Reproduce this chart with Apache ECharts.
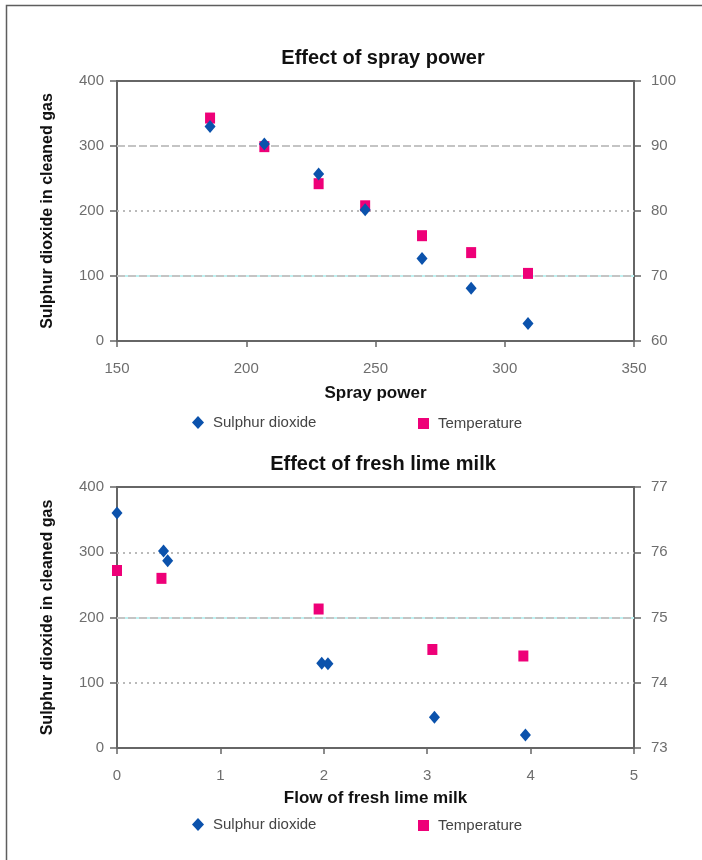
<!DOCTYPE html>
<html>
<head>
<meta charset="utf-8">
<script src="https://cdn.jsdelivr.net/npm/echarts@6/dist/echarts.min.js"></script>
<style>
  html, body { margin: 0; padding: 0; background: #fff; }
  #chart { width: 702px; height: 860px; }
</style>
</head>
<body>
<div id="chart"></div>
<script>
// Spray power trial
const sprayPower   = [186, 207, 228, 246, 268, 287, 309];
const so2BySpray   = [330, 303, 257, 202, 127, 81, 27];
const tempBySpray  = [94.3, 89.9, 84.2, 80.8, 76.2, 73.6, 70.4];

// Fresh lime milk trial
const limeFlowSo2  = [0, 0.45, 0.49, 1.98, 2.04, 3.07, 3.95];
const so2ByFlow    = [360, 302, 287, 130, 129, 47, 20];
const limeFlowTemp = [0, 0.43, 1.95, 3.05, 3.93];
const tempByFlow   = [75.72, 75.60, 75.13, 74.51, 74.41];

// Axis ranges and tick steps
const sprayAxis   = { min: 150, max: 350, interval: 50 };
const flowAxis    = { min: 0, max: 5, interval: 1 };
const so2Axis     = { min: 0, max: 400, interval: 100 };
const tempAxisTop = { min: 60, max: 100, interval: 10 };
const tempAxisBot = { min: 73, max: 77, interval: 1 };

const so2Name  = 'Sulphur dioxide';
const tempName = 'Temperature';
const yTitle   = 'Sulphur dioxide in cleaned gas';

const FONT = '"Liberation Sans", Arial, sans-serif';
const AXIS_COLOR = '#666666';

const pairs = (xs, ys) => xs.map((x, i) => [x, ys[i]]);

const dashedGrey = { color: '#c4c4c4', width: 2, type: [8, 3] };
const dottedGrey = { color: '#bababa', width: 2, type: [2, 4] };
const cyanBase   = { color: '#bff2f2', width: 2, type: 'solid' };

// Horizontal guide lines at the left-axis ticks, each with its own stroke
function gridLines(spec) {
  const data = [];
  spec.forEach(([v, kind]) => {
    if (kind === 'cyan') {
      data.push({ yAxis: v, lineStyle: cyanBase });
      data.push({ yAxis: v, lineStyle: dashedGrey });
    } else {
      data.push({ yAxis: v, lineStyle: kind === 'dash' ? dashedGrey : dottedGrey });
    }
  });
  return { silent: true, symbol: 'none', label: { show: false }, z: 1, data };
}

function xAxisCfg(gridIndex, range, name, nameGap) {
  return Object.assign({
    gridIndex, type: 'value', name, nameLocation: 'middle', nameGap,
    nameTextStyle: { fontFamily: FONT, fontSize: 17, fontWeight: 'bold', color: '#111' },
    axisLine: { show: true, lineStyle: { color: AXIS_COLOR, width: 2 } },
    axisTick: { show: true, length: 6, lineStyle: { color: AXIS_COLOR, width: 1.5 } },
    axisLabel: { margin: 20, fontFamily: FONT, fontSize: 15, color: '#6e6e6e' },
    splitLine: { show: false }
  }, range);
}

function yAxisCfg(gridIndex, range, position, name) {
  const cfg = Object.assign({
    gridIndex, type: 'value', position,
    axisLine: { show: true, onZero: false, lineStyle: { color: AXIS_COLOR, width: 2 } },
    axisTick: { show: true, length: 7, lineStyle: { color: AXIS_COLOR, width: 1.5 } },
    axisLabel: { margin: position === 'left' ? 13 : 17, fontFamily: FONT, fontSize: 15, color: '#6e6e6e' },
    splitLine: { show: false }
  }, range);
  if (name) {
    cfg.name = name;
    cfg.nameLocation = 'middle';
    cfg.nameGap = 61;
    cfg.nameRotate = 90;
    cfg.nameTextStyle = { fontFamily: FONT, fontSize: 16, fontWeight: 'bold', color: '#111' };
  }
  return cfg;
}

function legendCfg(name, icon, left, top, w, h) {
  return {
    data: [name], left, top, icon, itemWidth: w, itemHeight: h,
    selectedMode: false,
    itemStyle: { opacity: 1 },
    textStyle: { fontFamily: FONT, fontSize: 15, color: '#444', padding: [0, 0, 0, 4] }
  };
}

const so2Style  = { color: '#0b52ac', opacity: 1 };
const tempStyle = { color: '#ee0078', opacity: 1 };

const option = {
  backgroundColor: '#ffffff',
  animation: false,
  graphic: [{
    type: 'rect',
    shape: { x: 6.5, y: 5.5, width: 760, height: 900 },
    style: { fill: 'none', stroke: '#5e5e5e', lineWidth: 1.5 },
    silent: true
  }],
  title: [
    { text: 'Effect of spray power', left: 378, top: 43, textAlign: 'center',
      textStyle: { fontFamily: FONT, fontSize: 20, fontWeight: 'bold', color: '#111' } },
    { text: 'Effect of fresh lime milk', left: 378, top: 449, textAlign: 'center',
      textStyle: { fontFamily: FONT, fontSize: 20, fontWeight: 'bold', color: '#111' } }
  ],
  legend: [
    legendCfg(so2Name, 'diamond', 187, 410, 12, 13),
    legendCfg(tempName, 'rect', 413, 411, 11, 11),
    legendCfg(so2Name, 'diamond', 187, 812, 12, 13),
    legendCfg(tempName, 'rect', 413, 813, 11, 11)
  ],
  grid: [
    { left: 117, top: 81, width: 517, height: 260, show: true, borderColor: AXIS_COLOR, borderWidth: 2, backgroundColor: 'transparent' },
    { left: 117, top: 487, width: 517, height: 261, show: true, borderColor: AXIS_COLOR, borderWidth: 2, backgroundColor: 'transparent' }
  ],
  xAxis: [
    xAxisCfg(0, sprayAxis, 'Spray power', 44),
    xAxisCfg(1, flowAxis, 'Flow of fresh lime milk', 42)
  ],
  yAxis: [
    yAxisCfg(0, so2Axis, 'left', yTitle),
    yAxisCfg(0, tempAxisTop, 'right'),
    yAxisCfg(1, so2Axis, 'left', yTitle),
    yAxisCfg(1, tempAxisBot, 'right')
  ],
  series: [
    {
      name: so2Name, type: 'scatter', xAxisIndex: 0, yAxisIndex: 0,
      symbol: 'diamond', symbolSize: [11, 13], itemStyle: so2Style, z: 3,
      data: pairs(sprayPower, so2BySpray),
      markLine: gridLines([[300, 'dash'], [200, 'dot'], [100, 'cyan']])
    },
    {
      name: tempName, type: 'scatter', xAxisIndex: 0, yAxisIndex: 1,
      symbol: 'rect', symbolSize: [10, 11], itemStyle: tempStyle, z: 2,
      data: pairs(sprayPower, tempBySpray)
    },
    {
      name: so2Name, type: 'scatter', xAxisIndex: 1, yAxisIndex: 2,
      symbol: 'diamond', symbolSize: [11, 13], itemStyle: so2Style, z: 3,
      data: pairs(limeFlowSo2, so2ByFlow),
      markLine: gridLines([[300, 'dot'], [200, 'cyan'], [100, 'dot']])
    },
    {
      name: tempName, type: 'scatter', xAxisIndex: 1, yAxisIndex: 3,
      symbol: 'rect', symbolSize: [10, 11], itemStyle: tempStyle, z: 2,
      data: pairs(limeFlowTemp, tempByFlow)
    }
  ]
};

const chart = echarts.init(document.getElementById('chart'), null, { renderer: 'canvas' });
chart.setOption(option);
</script>
</body>
</html>
